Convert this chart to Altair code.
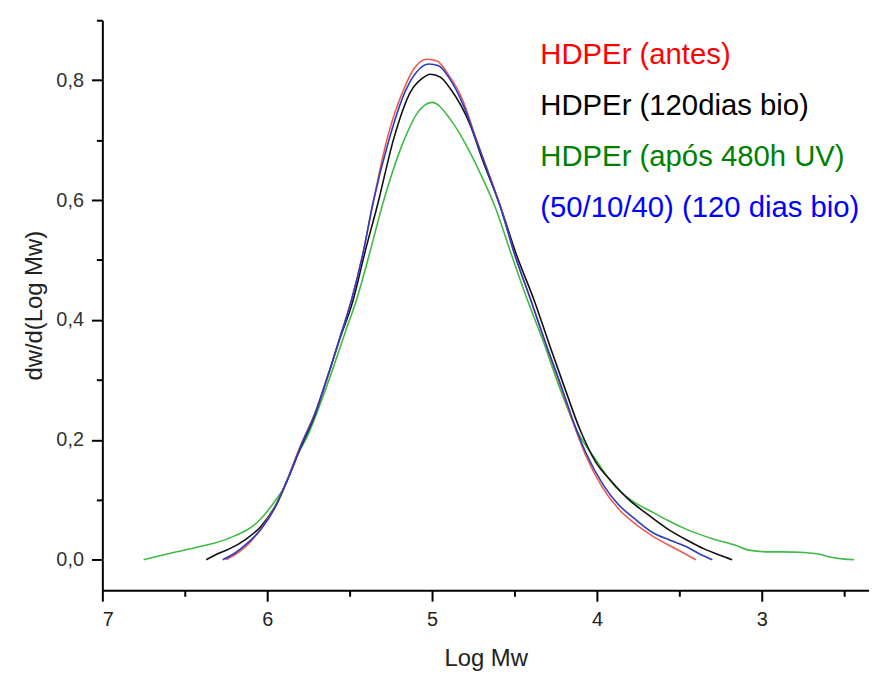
import altair as alt
import pandas as pd

# ---- data ----
red_x = [6.25, 6.17, 6.10, 6.04, 5.95, 5.87, 5.80, 5.71, 5.64, 5.56, 5.49, 5.42, 5.36, 5.27, 5.17, 5.11, 5.03,
         4.97, 4.91, 4.81, 4.73, 4.65, 4.58, 4.50, 4.40, 4.31, 4.22, 4.14, 4.07, 3.97, 3.87, 3.76, 3.66,
         3.57, 3.48, 3.40]
red_y = [0.000, 0.013, 0.030, 0.051, 0.089, 0.139, 0.189, 0.245, 0.300, 0.370, 0.432, 0.510, 0.593, 0.705, 0.786,
         0.819, 0.835, 0.832, 0.813, 0.764, 0.700, 0.640, 0.585, 0.510, 0.432, 0.360, 0.290, 0.225, 0.175,
         0.122, 0.085, 0.058, 0.039, 0.025, 0.012, 0.000]

blue_x = [6.27, 6.19, 6.11, 6.04, 5.95, 5.87, 5.80, 5.71, 5.64, 5.56, 5.49, 5.42, 5.36, 5.26, 5.16, 5.09, 5.02,
          4.96, 4.90, 4.81, 4.73, 4.65, 4.58, 4.50, 4.40, 4.31, 4.22, 4.14, 4.07, 3.96, 3.87, 3.77, 3.66,
          3.56, 3.46, 3.38, 3.30]
blue_y = [0.000, 0.012, 0.030, 0.050, 0.088, 0.138, 0.187, 0.244, 0.300, 0.370, 0.432, 0.510, 0.593, 0.702,
          0.783, 0.815, 0.827, 0.824, 0.805, 0.758, 0.698, 0.638, 0.583, 0.510, 0.432, 0.360, 0.292, 0.228,
          0.180, 0.124, 0.092, 0.068, 0.045, 0.033, 0.022, 0.010, 0.000]

black_x = [6.37, 6.30, 6.23, 6.13, 6.04, 5.95, 5.87, 5.80, 5.71, 5.64, 5.56, 5.48, 5.41, 5.33, 5.23, 5.13, 5.06,
           5.01, 4.95, 4.89, 4.77, 4.69, 4.59, 4.49, 4.38, 4.29, 4.20, 4.10, 4.01, 3.91, 3.81, 3.69, 3.57,
           3.45, 3.35, 3.25, 3.18]
black_y = [0.000, 0.010, 0.018, 0.034, 0.055, 0.090, 0.138, 0.185, 0.242, 0.300, 0.368, 0.432, 0.510, 0.593,
           0.705, 0.781, 0.803, 0.810, 0.805, 0.786, 0.726, 0.664, 0.593, 0.510, 0.432, 0.360, 0.290, 0.215,
           0.164, 0.130, 0.101, 0.075, 0.051, 0.032, 0.018, 0.007, 0.000]

green_x = [6.75, 6.60, 6.42, 6.23, 6.05, 5.96, 5.89, 5.83, 5.75, 5.67, 5.60, 5.52, 5.46, 5.38, 5.30, 5.17, 5.09,
           5.00, 4.89, 4.79, 4.70, 4.62, 4.52, 4.42, 4.32, 4.23, 4.12, 4.00, 3.89, 3.78, 3.66, 3.56, 3.46,
           3.30, 3.16, 3.08, 2.95, 2.88, 2.74, 2.65, 2.58, 2.50, 2.44]
green_y = [0.000, 0.010, 0.021, 0.036, 0.065, 0.095, 0.125, 0.167, 0.210, 0.266, 0.320, 0.385, 0.432, 0.510,
           0.593, 0.700, 0.745, 0.763, 0.735, 0.690, 0.640, 0.590, 0.510, 0.432, 0.360, 0.290, 0.215, 0.164,
           0.122, 0.097, 0.079, 0.064, 0.051, 0.035, 0.024, 0.016, 0.013, 0.013, 0.012, 0.009, 0.004, 0.001, 0.000]

series_names = ["HDPEr (antes)", "HDPEr (120dias bio)", "HDPEr (após 480h UV)", "(50/10/40) (120 dias bio)"]
line_colors = ["#ef5a4c", "#111111", "#3dbb45", "#2a3cc4"]
text_colors = ["#ff0000", "#000000", "#008000", "#0000ff"]
series_x = [red_x, black_x, green_x, blue_x]
series_y = [red_y, black_y, green_y, blue_y]

x_ticks = [7, 6.5, 6, 5.5, 5, 4.5, 4, 3.5, 3, 2.5]
y_ticks = [0.0, 0.1, 0.2, 0.3, 0.4, 0.5, 0.6, 0.7, 0.8, 0.9]

FONT = "Liberation Sans"
W, H = 772, 574

x_enc = alt.X(
    "x:Q",
    scale=alt.Scale(domain=[2.35, 7], reverse=True, nice=False, zero=False),
    axis=alt.Axis(
        values=x_ticks,
        title="Log Mw",
        labelExpr="datum.value % 1 === 0 ? format(datum.value, 'd') : ''",
        tickSize={"condition": {"test": "datum.value % 1 !== 0", "value": 6}, "value": 11},
        labelFontSize=20, labelColor="#222222", labelPadding=8, labelFont=FONT,
        titleFontSize=24, titleFont=FONT, titleFontWeight="normal", titleColor="#222222", titlePadding=18,
        grid=False,
    ),
)
y_enc = alt.Y(
    "y:Q",
    scale=alt.Scale(domain=[-0.051, 0.9], nice=False, zero=False),
    axis=alt.Axis(
        values=y_ticks,
        title="dw/d(Log Mw)",
        labelExpr="round(datum.value*10) % 2 === 0 ? replace(format(datum.value, '.1f'), '.', ',') : ''",
        tickSize={"condition": {"test": "round(datum.value*10) % 2 !== 0", "value": 6}, "value": 11},
        labelFontSize=20, labelColor="#333333", labelPadding=8, labelFont=FONT,
        titleFontSize=24, titleFont=FONT, titleFontWeight="normal", titleColor="#222222", titlePadding=9,
        grid=False,
    ),
)

draw_order = [2, 1, 0, 3]  # green, black, red, blue
layers = []
for i in draw_order:
    df = pd.DataFrame({"x": series_x[i], "y": series_y[i]})
    layers.append(
        alt.Chart(df).mark_line(color=line_colors[i], strokeWidth=1.6, interpolate="monotone").encode(
            x=x_enc, y=y_enc
        )
    )

# legend as colored text (top right)
for i, name in enumerate(series_names):
    ldf = pd.DataFrame({"label": [name]})
    layers.append(
        alt.Chart(ldf).mark_text(
            align="left", baseline="alphabetic", fontSize=29.5, font=FONT, color=text_colors[i],
            x=441, y=44 + i * 51.5,
        ).encode(text="label:N")
    )

chart = alt.layer(*layers).properties(
    width=W, height=H,
    autosize=alt.AutoSizeParams(type="none"),
    padding={"left": 95, "top": 10, "right": 0, "bottom": 80},
).configure_view(stroke=None).configure_axis(
    domainColor="#000000", domainWidth=2, tickColor="#000000", tickWidth=2,
)

chart.save("out.html", embed_options={"renderer": "svg", "actions": False})
